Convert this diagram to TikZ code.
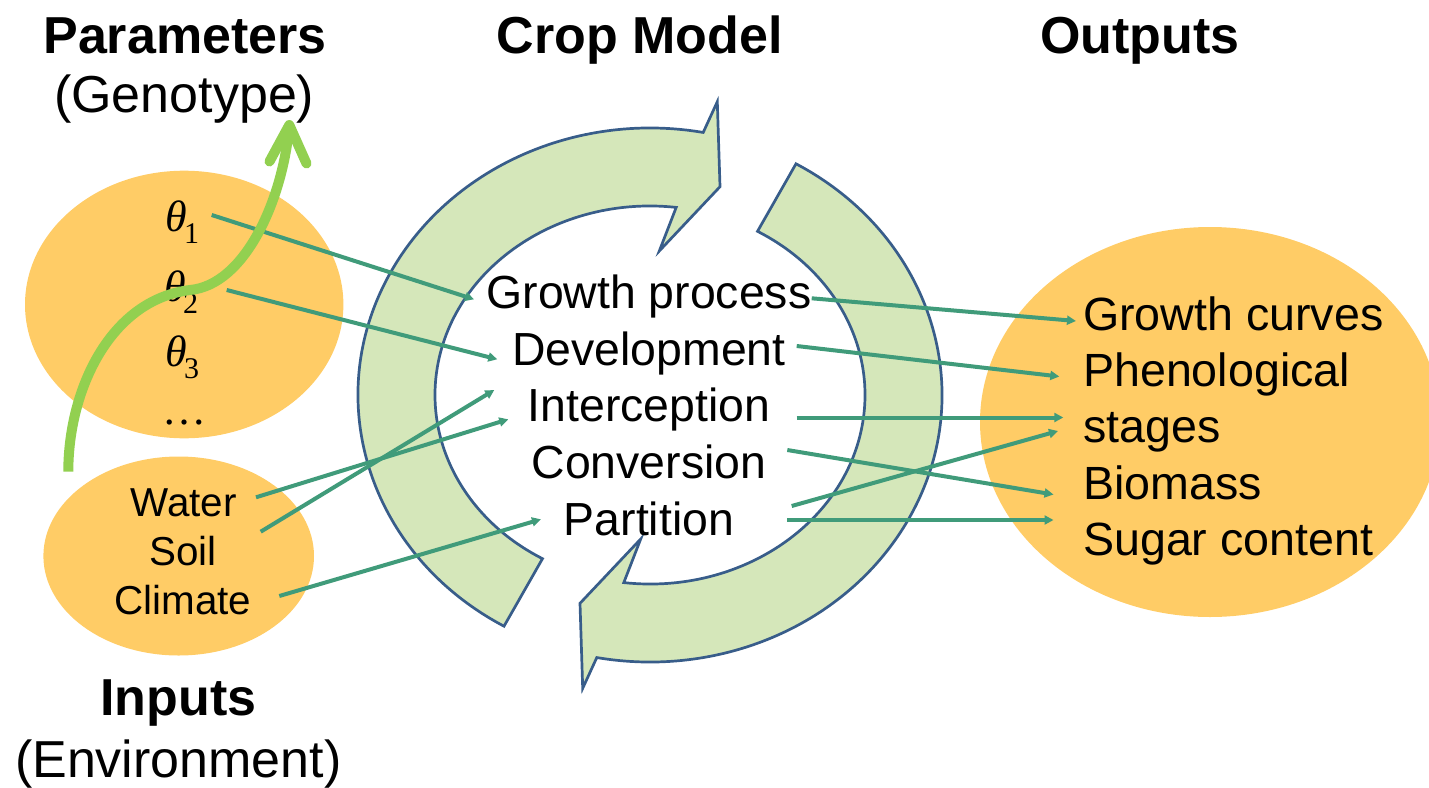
\documentclass[tikz,border=0pt]{standalone}
\usepackage{fontspec}
\setmainfont{Liberation Sans}
\newfontfamily\tnrfont{Liberation Serif}
\usetikzlibrary{arrows.meta,shapes.geometric}
\definecolor{ellfill}{RGB}{255,204,102}
\definecolor{ringfill}{RGB}{213,231,186}
\definecolor{ringline}{RGB}{56,93,138}
\definecolor{conncol}{RGB}{64,155,122}
\definecolor{curvecol}{RGB}{146,208,80}
\newcommand{\parth}[1]{{\tnrfont\fontsize{22}{26}\selectfont\itshape θ}\kern-1.5pt\raisebox{-5.8pt}{\tnrfont\fontsize{15}{18}\selectfont #1}}
\begin{document}
\begin{tikzpicture}[x=0.5pt,y=0.5pt,
  blob/.style={ellipse, fill=ellfill, draw=none, inner sep=0pt},
  ringarrow/.style={fill=ringfill, draw=ringline, line width=1.35pt, line join=miter},
  conn/.style={draw=conncol, line width=2pt, -{Triangle[length=4.5pt,width=4.5pt]}},
  gcurve/.style={draw=curvecol, line width=5pt},
  ttl/.style={anchor=base, inner sep=0pt, font=\fontsize{26}{31}\selectfont},
  ttlb/.style={ttl, font=\fontsize{26}{31}\selectfont\bfseries},
  midlbl/.style={anchor=base, inner sep=0pt, font=\fontsize{23.2}{28}\selectfont},
  outlbl/.style={anchor=base west, inner sep=0pt, font=\fontsize{23.3}{28}\selectfont},
  inlbl/.style={anchor=base, inner sep=0pt, font=\fontsize{20.2}{24}\selectfont},
  parlbl/.style={anchor=base west, inner sep=0pt}]
\useasboundingbox (0,0) rectangle (1429,-787);
\clip (0,0) rectangle (1429,-787);

% ellipses
\node[blob, minimum width=159.2pt, minimum height=133.8pt] (params) at (184.2,-304.5) {};
\node[blob, minimum width=135.3pt, minimum height=99.5pt] (inputs) at (178.7,-556) {};
\node[blob, minimum width=230pt, minimum height=195pt] (outputs) at (1210,-422) {};

% circular arrows
\draw[ringarrow] (504,-626.2)
  arc[start angle=240, end angle=79.5, x radius=292, y radius=267]
  -- (717.3,-101.7) -- (720,-186.7) -- (659.3,-251) -- (676.2,-207.4)
  arc[start angle=83, end angle=240, x radius=215, y radius=189] -- cycle;
\draw[ringarrow, rotate around={180:(650,-395)}] (504,-626.2)
  arc[start angle=240, end angle=79.5, x radius=292, y radius=267]
  -- (717.3,-101.7) -- (720,-186.7) -- (659.3,-251) -- (676.2,-207.4)
  arc[start angle=83, end angle=240, x radius=215, y radius=189] -- cycle;

% titles
\node[ttlb] (tpar) at (185,-53) {Parameters};
\node[ttl] (tgen) at (184.2,-112) {(Genotype)};
\node[ttlb] (tcrop) at (639.5,-53) {Crop Model};
\node[ttlb] (tout) at (1140,-53) {Outputs};
\node[ttlb] (tinp) at (178.3,-715) {Inputs};
\node[ttl] (tenv) at (178.3,-777) {(Environment)};

% parameters
\node[parlbl] (th1) at (165,-231.7) {\parth{1}};
\node[parlbl] (th2) at (164,-301.7) {\parth{2}};
\node[parlbl] (th3) at (165,-366.7) {\parth{3}};
\node[anchor=base, inner sep=0pt, font=\tnrfont\fontsize{22}{26}\selectfont] (thd) at (184,-424) {…};

% inputs
\node[inlbl] (water) at (183.5,-516) {Water};
\node[inlbl] (soil) at (183,-565) {Soil};
\node[inlbl] (climate) at (182.8,-614.3) {Climate};

% crop model processes
\node[midlbl] (gp) at (649,-308.3) {Growth process};
\node[midlbl] (dev) at (649,-365) {Development};
\node[midlbl] (int) at (649,-421.7) {Interception};
\node[midlbl] (conv) at (649,-478.3) {Conversion};
\node[midlbl] (part) at (649,-535) {Partition};

% outputs
\node[outlbl] (gc) at (1082.7,-330.7) {Growth curves};
\node[outlbl] (phen) at (1082.7,-386.7) {Phenological};
\node[outlbl] (stg) at (1082.7,-442.7) {stages};
\node[outlbl] (bio) at (1082.7,-499.3) {Biomass};
\node[outlbl] (sug) at (1082.7,-555) {Sugar content};

% connector end points
\coordinate (th1o) at (211.7,-215);
\coordinate (th2o) at (226.7,-290);
\coordinate (watero) at (256,-497.3);
\coordinate (soilo) at (260.7,-531.7);
\coordinate (climo) at (279.3,-596);
\coordinate (gpi) at (474,-299.3);
\coordinate (devi) at (497.3,-359.3);
\coordinate (intia) at (494.3,-390);
\coordinate (intib) at (508.3,-419.3);
\coordinate (parti) at (541,-519.3);
\coordinate (gpo) at (811.7,-298.3);
\coordinate (devo) at (796.7,-346);
\coordinate (into) at (796.7,-417.5);
\coordinate (convo) at (787.3,-450);
\coordinate (partoa) at (791.7,-506);
\coordinate (partob) at (787.3,-520);
\coordinate (gci) at (1076,-321);
\coordinate (pheni) at (1059.3,-376.5);
\coordinate (stgia) at (1063.3,-417.5);
\coordinate (stgib) at (1058,-431);
\coordinate (bioi) at (1053.5,-494.5);
\coordinate (sugi) at (1053.5,-520);

% connectors
\draw[conn] (th1o) -- (gpi);
\draw[conn] (th2o) -- (devi);
\draw[conn] (watero) -- (intib);
\draw[conn] (soilo) -- (intia);
\draw[conn] (climo) -- (parti);
\draw[conn] (gpo) -- (gci);
\draw[conn] (devo) -- (pheni);
\draw[conn] (into) -- (stgia);
\draw[conn] (convo) -- (bioi);
\draw[conn] (partoa) -- (stgib);
\draw[conn] (partob) -- (sugi);

% green S-curve arrow
\coordinate (gstart) at (68.3,-471.7);
\coordinate (gmid) at (190,-290);
\coordinate (gtip) at (289.3,-125);
\draw[gcurve] (gstart) .. controls (68.3,-390) and (110,-300) .. (gmid)
  .. controls (245,-285) and (282,-200) .. (288.8,-130);
\coordinate (gbl) at (269.5,-161.5);
\coordinate (gbr) at (306.5,-163.5);
\draw[gcurve, line cap=round, line join=round] (gbl) -- (gtip) -- (gbr);
\end{tikzpicture}
\end{document}
